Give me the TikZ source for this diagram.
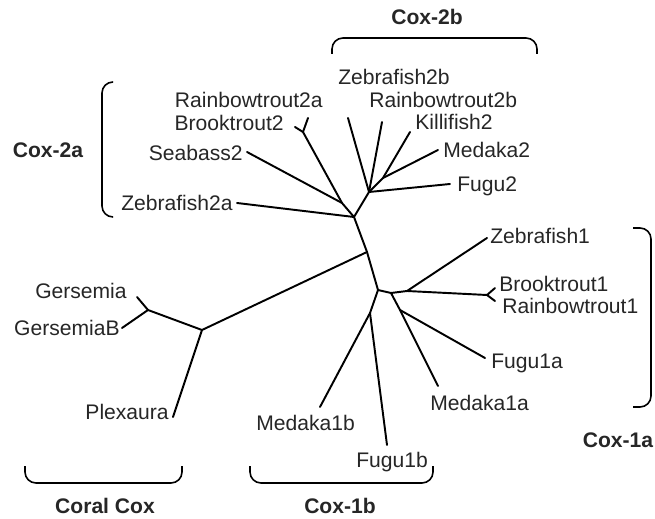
\documentclass[tikz,border=0pt]{standalone}
\usepackage{fontspec}
\setmainfont{Liberation Sans}

\tikzset{
  branch/.style={line width=1.1pt, line cap=round, line join=round},
  brace/.style={line width=0.9pt, rounded corners=0.22cm},
  taxon/.style={font=\fontsize{12}{14}\selectfont, text=black!85, inner sep=0pt},
  clade/.style={font=\fontsize{12}{14}\selectfont\bfseries, text=black!85, inner sep=0pt},
}

\begin{document}
\begin{tikzpicture}[x=0.02cm, y=-0.02cm]
\useasboundingbox (0,0) rectangle (655,519);

%------------------ INNER NODES ------------------%
\coordinate (mid)   at (367,252);
\coordinate (c2a)   at (354,217);
\coordinate (sbn)   at (342,203);
\coordinate (trn)   at (303,132);
\coordinate (c2b)   at (369,192);
\coordinate (kmn)   at (383,178);
\coordinate (coral) at (202,330);
\coordinate (gern)  at (148,310);
\coordinate (c1)    at (378,290);
\coordinate (c1b)   at (370,313);
\coordinate (c1a)   at (391,293);
\coordinate (zfn)   at (407,291);
\coordinate (trout) at (487,295);
\coordinate (fmn)   at (400,310);

%------------------ BRANCH ENDS ------------------%
\coordinate (zf2a) at (237,203);
\coordinate (sb2)  at (247,152);
\coordinate (bt2)  at (295,127);
\coordinate (rt2a) at (308,118);
\coordinate (zf2b) at (348,118);
\coordinate (rt2b) at (382,122);
\coordinate (kf2)  at (410,132);
\coordinate (md2)  at (438,150);
\coordinate (fg2)  at (450,184);
\coordinate (ge)   at (137,297);
\coordinate (geb)  at (122,328);
\coordinate (plx)  at (173,417);
\coordinate (md1b) at (320,407);
\coordinate (fg1b) at (387,445);
\coordinate (zf1)  at (487,238);
\coordinate (bt1)  at (495,288);
\coordinate (rt1)  at (495,301);
\coordinate (fg1a) at (485,358);
\coordinate (md1a) at (438,386);

%------------------ TREE ------------------%
% backbone
\draw[branch] (c2b) -- (c2a) -- (mid) -- (c1) -- (c1b);
\draw[branch] (c1) -- (c1a);
\draw[branch] (mid) -- (coral);

% Cox-2a
\draw[branch] (c2a) -- (zf2a);
\draw[branch] (c2a) -- (sbn) -- (sb2);
\draw[branch] (sbn) -- (trn) -- (bt2);
\draw[branch] (trn) -- (rt2a);

% Cox-2b
\draw[branch] (c2b) -- (zf2b);
\draw[branch] (c2b) -- (rt2b);
\draw[branch] (c2b) -- (kmn) -- (kf2);
\draw[branch] (kmn) -- (md2);
\draw[branch] (c2b) -- (fg2);

% coral
\draw[branch] (coral) -- (gern) -- (ge);
\draw[branch] (gern) -- (geb);
\draw[branch] (coral) -- (plx);

% Cox-1b
\draw[branch] (c1b) -- (md1b);
\draw[branch] (c1b) -- (fg1b);

% Cox-1a
\draw[branch] (c1a) -- (zfn) -- (trout) -- (bt1);
\draw[branch] (trout) -- (rt1);
\draw[branch] (zfn) -- (zf1);
\draw[branch] (c1a) -- (fmn) -- (md1a);
\draw[branch] (fmn) -- (fg1a);

%------------------ TAXA ------------------%
\node[taxon, anchor=base east] (Lzf2a) at (233,210.5) {Zebrafish2a};
\node[taxon, anchor=base east] (Lsb2)  at (243,160.5) {Seabass2};
\node[taxon, anchor=base east] (Lbt2)  at (284,130.5) {Brooktrout2};
\node[taxon, anchor=base east] (Lrt2a) at (323,107.5) {Rainbowtrout2a};
\node[taxon, anchor=base west] (Lzf2b) at (338,84.5)  {Zebrafish2b};
\node[taxon, anchor=base west] (Lrt2b) at (369,107.5) {Rainbowtrout2b};
\node[taxon, anchor=base west] (Lkf2)  at (415,129.5) {Killifish2};
\node[taxon, anchor=base west] (Lmd2)  at (443,157.5) {Medaka2};
\node[taxon, anchor=base west] (Lfg2)  at (457,191.5) {Fugu2};
\node[taxon, anchor=base west] (Lzf1)  at (490,243.5) {Zebrafish1};
\node[taxon, anchor=base west] (Lbt1)  at (499,291.5) {Brooktrout1};
\node[taxon, anchor=base west] (Lrt1)  at (502,313.5) {Rainbowtrout1};
\node[taxon, anchor=base west] (Lfg1a) at (491,368.5) {Fugu1a};
\node[taxon, anchor=base west] (Lmd1a) at (430,410.5) {Medaka1a};
\node[taxon, anchor=base west] (Lmd1b) at (256,430.5) {Medaka1b};
\node[taxon, anchor=base west] (Lfg1b) at (356,467.5) {Fugu1b};
\node[taxon, anchor=base east] (Lge)   at (127,298.5) {Gersemia};
\node[taxon, anchor=base east] (Lgeb)  at (120,335.5) {GersemiaB};
\node[taxon, anchor=base east] (Lplx)  at (169,419.5) {Plexaura};

%------------------ CLADES ------------------%
\draw[brace] (332,54) -- (332,38) -- (537,38) -- (537,54);
\node[clade, anchor=base] (Kc2b) at (427,25) {Cox-2b};

\draw[brace] (113,82) -- (102,82) -- (102,217) -- (113,217);
\node[clade, anchor=base] (Kc2a) at (48,158) {Cox-2a};

\draw[brace] (633,228) -- (651,228) -- (651,407) -- (633,407);
\node[clade, anchor=base] (Kc1a) at (618,448) {Cox-1a};

\draw[brace] (25,466) -- (25,483) -- (182,483) -- (182,466);
\node[clade, anchor=base] (Kcor) at (105,513) {Coral Cox};

\draw[brace] (250,466) -- (250,483) -- (433,483) -- (433,466);
\node[clade, anchor=base] (Kc1b) at (340,513) {Cox-1b};

\end{tikzpicture}
\end{document}
